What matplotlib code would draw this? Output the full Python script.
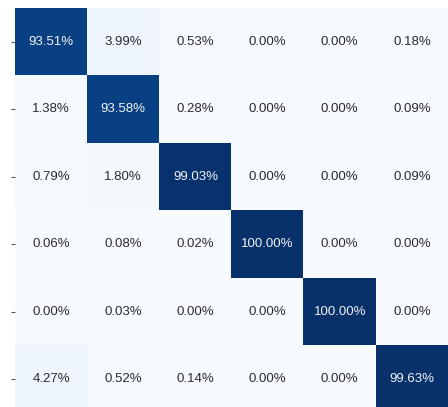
import numpy as np
import matplotlib
matplotlib.use('Agg')
import matplotlib.pyplot as plt

plt.rcParams['font.family'] = ['Liberation Sans', 'DejaVu Sans']

# confusion matrix values (percent)
row0 = [93.51, 3.99, 0.53, 0.00, 0.00, 0.18]
row1 = [1.38, 93.58, 0.28, 0.00, 0.00, 0.09]
row2 = [0.79, 1.80, 99.03, 0.00, 0.00, 0.09]
row3 = [0.06, 0.08, 0.02, 100.00, 0.00, 0.00]
row4 = [0.00, 0.03, 0.00, 0.00, 100.00, 0.00]
row5 = [4.27, 0.52, 0.14, 0.00, 0.00, 99.63]

cm = np.array([row0, row1, row2, row3, row4, row5])
n = cm.shape[0]

fig = plt.figure(figsize=(4.48, 4.07), dpi=100)
ax = fig.add_axes([15 / 448, -6 / 407, 433 / 448, 405 / 407])
ax.imshow(cm, cmap='Blues', vmin=0, vmax=100, aspect='auto', interpolation='nearest')

for i in range(n):
    for j in range(n):
        v = cm[i, j]
        color = '#f2f2f2' if v > 50 else '#2b2b2b'
        ax.text(j, i, f'{v:.2f}%', ha='center', va='center', fontsize=9.5, color=color)

ax.set_xticks([])
ax.set_yticks(range(n))
ax.set_yticklabels([])
ax.tick_params(axis='y', length=3, width=0.8, color='#555555')
for s in ax.spines.values():
    s.set_visible(False)

fig.savefig('out.png', dpi=100)
